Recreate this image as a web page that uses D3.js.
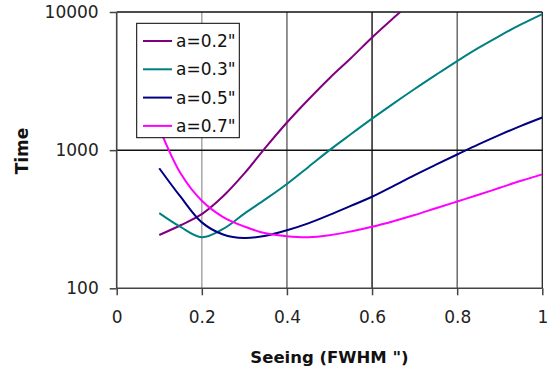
<!DOCTYPE html>
<html><head><meta charset="utf-8">
<script src="https://cdn.jsdelivr.net/npm/d3@7"></script>
<style>
body{margin:0;background:#fff;}
text{font-family:"DejaVu Sans",sans-serif;}
</style>
</head><body>
<svg id="chart" width="557" height="369"></svg>
<script>
const seeing = [0.1,0.15,0.2,0.25,0.3,0.35,0.4,0.45,0.5,0.55,0.6,0.65,0.7,0.75,0.8,0.85,0.9,0.95,1.0];
const a02 = [243,286,344,463,678,1047,1585,2317,3319,4624,6546,9036,12330,null,null,null,null,null,null];
const a03 = [350,278,234,269,347,442,569,753,1000,1303,1690,2173,2773,3508,4416,5495,6730,8128,9661];
const a05 = [740,460,300,245,231,240,263,295,340,395,460,550,660,785,930,1100,1290,1500,1724];
const a07 = [1450,680,430,328,280,250,238,234,242,258,279,306,339,380,425,475,534,600,668];
const seriesNames = ['a=0.2"','a=0.3"','a=0.5"','a=0.7"'];
const seriesColors = ["#800080","#008080","#000080","#ff00ff"];
const xTicks = [0,0.2,0.4,0.6,0.8,1];
const xTickLabels = ["0","0.2","0.4","0.6","0.8","1"];
const yTicks = [100,1000,10000];
const yTickLabels = ["100","1000","10000"];
const xTitle = 'Seeing (FWHM ")';
const yTitle = "Time";

const svg = d3.select("#chart");
const L = 116.7, R = 542.3, T = 12, B = 288.3;
const x = d3.scaleLinear().domain([0,1]).range([L,R]);
const y = d3.scaleLog().domain([100,10000]).range([B,T]);

// vertical gridlines
const gridColors = {0.2:"#9a9a9a",0.4:"#555",0.6:"#000",0.8:"#555",1:"#222"};
svg.append("g").selectAll("line").data(xTicks.filter(d=>d>0)).join("line")
  .attr("x1",d=>x(d)).attr("x2",d=>x(d)).attr("y1",y(10000)).attr("y2",y(100))
  .attr("stroke",d=>gridColors[d]).attr("stroke-width",1.3);
// horizontal gridlines
svg.append("g").selectAll("line").data([1000,10000]).join("line")
  .attr("x1",L).attr("x2",R).attr("y1",d=>y(d)).attr("y2",d=>y(d))
  .attr("stroke","#111").attr("stroke-width",1.5);

// clip
svg.append("clipPath").attr("id","clip").append("rect")
  .attr("x",L).attr("y",T).attr("width",R-L).attr("height",B-T);

const allSeries = [a02,a03,a05,a07];
const line = d3.line()
  .defined(d=>d[1]!=null)
  .x(d=>x(d[0])).y(d=>y(d[1]))
  .curve(d3.curveCatmullRom.alpha(0.5));
const gLines = svg.append("g").attr("clip-path","url(#clip)");
allSeries.forEach((vals,i)=>{
  const pts = seeing.map((s,j)=>[s,vals[j]]);
  gLines.append("path").datum(pts).attr("d",line)
    .attr("fill","none").attr("stroke",seriesColors[i]).attr("stroke-width",2);
});

// axes
const xAxis = d3.axisBottom(x).tickValues(xTicks).tickFormat((d,i)=>xTickLabels[i]).tickSize(7).tickPadding(16);
const gx = svg.append("g").attr("transform",`translate(0,${B})`).call(xAxis);
gx.select(".domain").attr("stroke","#444").attr("stroke-width",1.6).attr("d",`M${L},0H${R}`);
gx.selectAll(".tick line").attr("stroke","#444").attr("stroke-width",1.5);
gx.selectAll(".tick text").attr("font-size",17).attr("fill","#222").attr("font-family","DejaVu Sans");

const yAxis = d3.axisLeft(y).tickValues(yTicks).tickFormat((d,i)=>yTickLabels[i]).tickSize(7).tickPadding(11);
const gy = svg.append("g").attr("transform",`translate(${L},0)`).call(yAxis);
gy.select(".domain").attr("stroke","#444").attr("stroke-width",1.6).attr("d",`M0,${T}V${B}`);
gy.selectAll(".tick line").attr("stroke","#444").attr("stroke-width",1.5);
gy.selectAll(".tick text").attr("font-size",17).attr("fill","#222").attr("font-family","DejaVu Sans");

// titles
svg.append("text").attr("x",(L+R)/2).attr("y",363).attr("text-anchor","middle")
  .attr("font-size",16.5).attr("font-weight","bold").attr("fill","#111").text(xTitle);
svg.append("text").attr("transform",`translate(22,151) rotate(-90)`).attr("text-anchor","middle")
  .attr("dominant-baseline","central")
  .attr("font-size",17).attr("font-weight","bold").attr("fill","#111").text(yTitle);

// legend
const lg = svg.append("g");
lg.append("rect").attr("x",136.7).attr("y",23.3).attr("width",102.6).attr("height",114.4)
  .attr("fill","#fff").attr("stroke","#000").attr("stroke-width",1);
seriesNames.forEach((n,i)=>{
  const yy = 41 + i*28.3;
  lg.append("line").attr("x1",143).attr("x2",172).attr("y1",yy).attr("y2",yy)
    .attr("stroke",seriesColors[i]).attr("stroke-width",2);
  lg.append("text").attr("x",176).attr("y",yy).attr("dominant-baseline","central")
    .attr("font-size",17).attr("fill","#111").text(n);
});
</script>
</body></html>
